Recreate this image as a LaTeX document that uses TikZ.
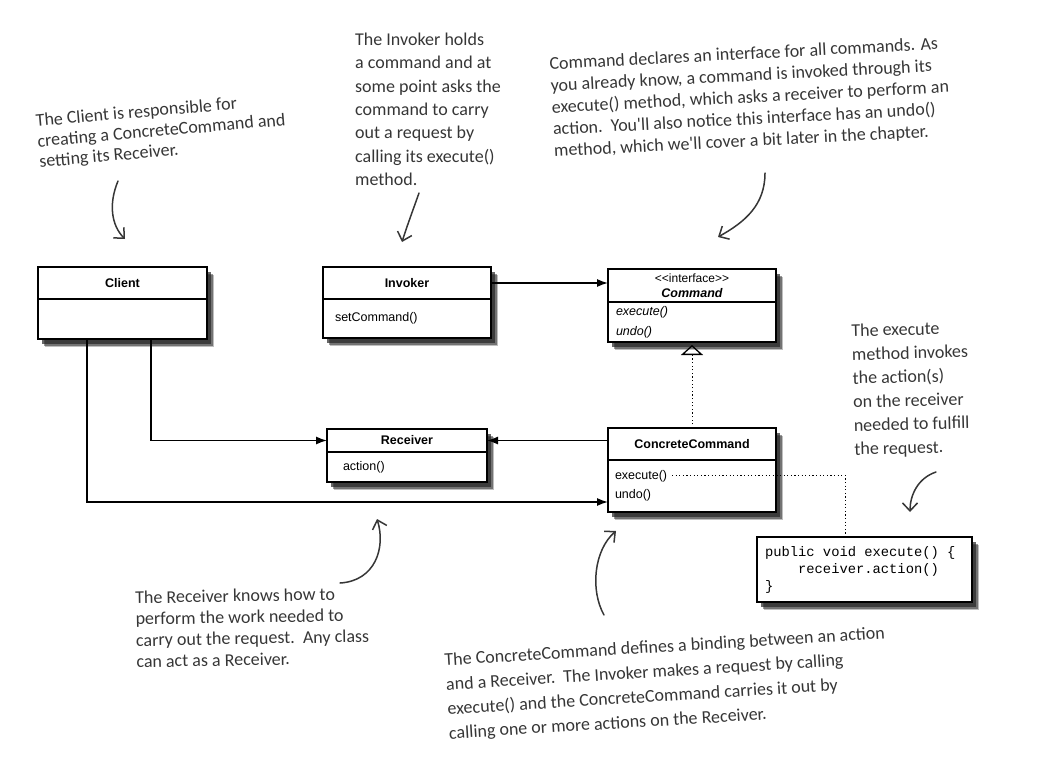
\documentclass[tikz,border=0pt]{standalone}
\usepackage{fontspec}
\setmainfont{Liberation Sans}
\newfontfamily\handfont{Carlito}
\newfontfamily\codefont{Liberation Mono}
\usepackage{tikz}
\usetikzlibrary{shapes}
\usetikzlibrary{arrows.meta}
\usetikzlibrary{positioning,fit,shadows,backgrounds}

\definecolor{ink}{HTML}{363636}
\newcommand\monosp{\phantom{x}}

\tikzset{
  classhead/.style={draw, line width=1.1pt, fill=white, inner sep=0pt, outer sep=0pt,
    minimum width=168pt, minimum height=32pt, align=center,
    font=\fontsize{12.5}{15}\selectfont\bfseries},
  classbody/.style={draw, line width=1.1pt, fill=white, inner ysep=0pt, outer sep=0pt,
    minimum height=40pt, align=left, font=\fontsize{12.5}{19.5}\selectfont},
  shadowbox/.style={fill=white, draw=none, inner sep=0pt,
    drop shadow={shadow xshift=7pt, shadow yshift=-8pt, opacity=.25, fill=black},
    drop shadow={shadow xshift=5.5pt, shadow yshift=-6.5pt, opacity=.4, fill=black},
    drop shadow={shadow xshift=4pt, shadow yshift=-5pt, opacity=.7, fill=black!85}},
  assoc/.style={line width=1.4pt, -{Latex[length=11pt,width=8pt]}},
  realize/.style={line width=1pt, dash pattern=on 1.2pt off 2.4pt,
    -{Triangle[open,length=10pt,width=22pt,line width=1.3pt]}},
  dots/.style={line width=1pt, dash pattern=on 1.2pt off 2.4pt},
  note/.style={text=ink, anchor=north west, inner sep=0pt, align=left,
    font=\handfont\fontsize{18}{#1}\selectfont},
  hand/.style={draw=ink, line width=1.5pt, line cap=round,
    -{Straight Barb[length=8pt,width=15pt,line width=1.5pt]}}
}

\begin{document}
\begin{tikzpicture}[x=1pt,y=-1pt]
  \useasboundingbox (0,0) rectangle (1057,757);

  % classes
  \node[classhead, minimum width=169pt] (client) at (122.5,283) {Client};
  \node[classbody, below=0pt of client, text width=151pt, inner xsep=9pt] (client body) {};

  \node[classhead] (invoker) at (407,283) {Invoker};
  \node[classbody, below=0pt of invoker, minimum height=39pt, text width=144pt, inner xsep=12pt] (invoker body) {setCommand()};

  \node[classhead, minimum height=33pt] (command) at (692,285.5)
    {{\mdseries\fontsize{12}{13.5}\selectfont <\kern0pt<interface>\kern0pt>}\\\itshape Command};
  \node[classbody, below=0pt of command, text width=152pt, inner xsep=8pt, font=\fontsize{12.5}{20}\selectfont\itshape] (command body) {execute()\\undo()};

  \node[classhead, minimum width=160pt, minimum height=23pt] (receiver) at (407,440.5) {Receiver};
  \node[classbody, below=0pt of receiver, minimum height=30pt, text width=128pt, inner xsep=16pt] (receiver body) {action()};

  \node[classhead] (cc) at (692,444) {ConcreteCommand};
  \node[classbody, below=0pt of cc, minimum height=52pt, text width=154pt, inner xsep=7pt] (cc body) {execute()\\undo()};

  \node[draw, line width=1.1pt, fill=white, outer sep=0pt, inner xsep=8pt, minimum height=65pt,
    text width=199pt, align=left, font=\codefont\fontsize{13.8}{17}\selectfont] (code) at (864.5,569.5)
    {public\monosp void\monosp execute()\monosp\{\\\phantom{xxxx}receiver.action()\\\}};

  \begin{scope}[on background layer]
    \node[shadowbox, fit=(client)(client body)] {};
    \node[shadowbox, fit=(invoker)(invoker body)] {};
    \node[shadowbox, fit=(command)(command body)] {};
    \node[shadowbox, fit=(receiver)(receiver body)] {};
    \node[shadowbox, fit=(cc)(cc body)] {};
    \node[shadowbox, fit=(code)] {};
  \end{scope}

  % connectors
  \draw[assoc] (invoker.east) -- (invoker.east -| command.west);
  \draw[assoc] ([xshift=28.5pt]client body.south) |- (receiver.west);
  \draw[assoc] ([xshift=-35.5pt]client body.south) |- ([yshift=-16pt]cc body.west);
  \draw[assoc] (cc.west |- receiver.east) -- (receiver.east);
  \draw[realize] (cc.north) -- ([yshift=-3pt]command body.south);
  \coordinate (exec end) at (672,475);
  \draw[dots] (exec end) -| ([xshift=-19.5pt]code.north);

  % notes
  \node[note=20.5pt, rotate=5] (client note) at (35,114)
    {The Client is responsible for\\creating a ConcreteCommand and\\setting its Receiver.};
  \node[note=23.3pt] (invoker note) at (355,33)
    {The Invoker holds\\a command and at\\some point asks the\\command to carry\\out a request by\\calling its execute()\\method.};
  \node[note=21.8pt, rotate=3] (command note) at (549,57)
    {Command declares an interface for all commands. As\\you already know, a command is invoked through its\\execute() method, which asks a receiver to perform an\\action.\ \ You'll also notice this interface has an undo()\\method, which we'll cover a bit later in the chapter.};
  \node[note=23.7pt, rotate=1.5] (execute note) at (851,324)
    {The execute\\method invokes\\the action(s)\\on the receiver\\needed to fulfill\\the request.};
  \node[note=21.3pt, rotate=1] (receiver note) at (135,591)
    {The Receiver knows how to\\perform the work needed to\\carry out the request.\ \ Any class\\can act as a Receiver.};
  \node[note=24.5pt, rotate=3.5] (cc note) at (444,653)
    {The ConcreteCommand defines a binding between an action\\and a Receiver.\ \ The Invoker makes a request by calling\\execute() and the ConcreteCommand carries it out by\\calling one or more actions on the Receiver.};

  % hand drawn arrows
  \draw[hand] (118,181) .. controls (108,205) and (112,226) .. (125,239);
  \draw[hand] (419,193) .. controls (413,210) and (407,226) .. (402,242);
  \draw[hand] (765,173) .. controls (765,205) and (745,222) .. (718,237);
  \draw[hand] (936,472) .. controls (918,478) and (910,495) .. (910,512);
  \draw[hand] (340,583) .. controls (375,581) and (386,548) .. (377,519);
  \draw[hand] (604,615) .. controls (590,590) and (594,550) .. (616,531);
\end{tikzpicture}
\end{document}
